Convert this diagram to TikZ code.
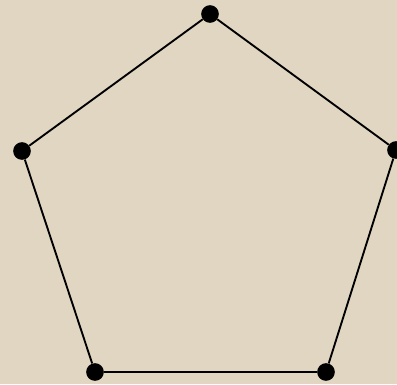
\documentclass[tikz,border=0pt]{standalone}
\usepackage{tikz}
\usetikzlibrary{backgrounds}
\definecolor{canvas}{RGB}{224,214,193}

\begin{document}
\begin{tikzpicture}[
  x=0.03cm, y=-0.03cm,
  vertex/.style={circle, fill=black, draw=none, inner sep=0pt, minimum size=0.53cm},
  edge/.style={line width=1.6pt, draw=black}
]
\useasboundingbox (0,0) rectangle (397,384);

% ── vertices ─────────────────────────────────────────────────────────────────
\node[vertex] (top)    at (210,14)  {};
\node[vertex] (left)   at (22,151)  {};
\node[vertex] (right)  at (396,150) {};
\node[vertex] (bleft)  at (95,372)  {};
\node[vertex] (bright) at (326,372) {};

% ── canvas and edges ─────────────────────────────────────────────────────────
\begin{scope}[on background layer]
  \fill[canvas] (0,0) rectangle (397,384);
  \draw[edge] (top) -- (right) -- (bright) -- (bleft) -- (left) -- (top);
\end{scope}
\end{tikzpicture}
\end{document}
